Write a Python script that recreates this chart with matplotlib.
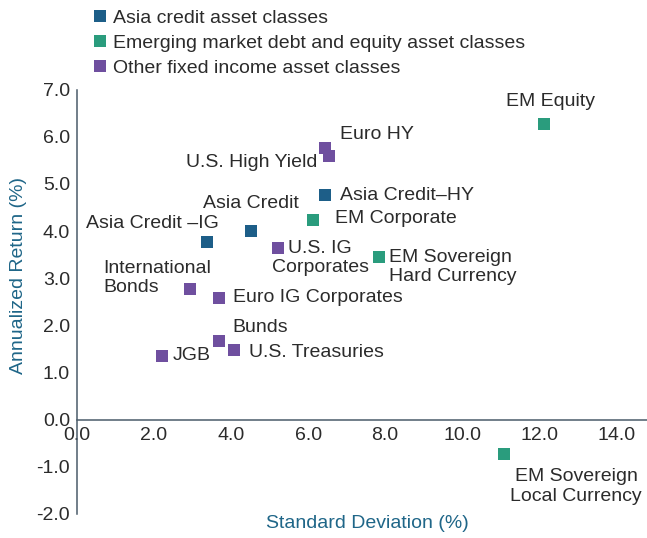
import matplotlib
matplotlib.use('Agg')
import matplotlib.pyplot as plt
from matplotlib.lines import Line2D

plt.rcParams['font.family'] = ['Liberation Sans', 'DejaVu Sans']

# data
names = ['EM Equity', 'Euro HY', 'U.S. High Yield', 'Asia Credit\u2013HY', 'EM Corporate',
         'Asia Credit', 'Asia Credit \u2013IG', 'U.S. IG\nCorporates', 'EM Sovereign\nHard Currency',
         'International\nBonds', 'Euro IG Corporates', 'Bunds', 'U.S. Treasuries', 'JGB',
         'EM Sovereign\nLocal Currency']
std_dev = [12.13, 6.44, 6.55, 6.44, 6.13, 4.52, 3.38, 5.22, 7.84, 2.94, 3.69, 3.69, 4.08, 2.21, 11.09]
ann_ret = [6.26, 5.75, 5.59, 4.76, 4.23, 4.0, 3.77, 3.64, 3.45, 2.77, 2.58, 1.67, 1.48, 1.35, -0.72]
groups = ['em', 'other', 'other', 'asia', 'em', 'asia', 'asia', 'other', 'em',
          'other', 'other', 'other', 'other', 'other', 'em']

group_names = {'asia': 'Asia credit asset classes',
               'em': 'Emerging market debt and equity asset classes',
               'other': 'Other fixed income asset classes'}
colors = {'asia': '#1d5e88', 'em': '#2a9c7d', 'other': '#6f4f9f'}

# label placement (pixel offsets from the marker, alignment)
label_pos = {
    'EM Equity': (6, 23, 'center'),
    'Euro HY': (15, 14, 'left'),
    'U.S. High Yield': (-12, -6, 'right'),
    'Asia Credit\u2013HY': (15, 0, 'left'),
    'EM Corporate': (22, 2, 'left'),
    'Asia Credit': (0, 28, 'center'),
    'Asia Credit \u2013IG': (12, 18, 'right'),
    'U.S. IG\nCorporates': (42, -10, 'center'),
    'EM Sovereign\nHard Currency': (10, -10, 'left'),
    'International\nBonds': (-87, 11, 'left'),
    'Euro IG Corporates': (14, 0, 'left'),
    'Bunds': (13, 13, 'left'),
    'U.S. Treasuries': (15, -3, 'left'),
    'JGB': (11, 0, 'left'),
    'EM Sovereign\nLocal Currency': (72, -33, 'center'),
}

text_col = '#2b2b2b'
axis_col = '#4a5b6a'
title_col = '#1f6688'
fs = 14

fig = plt.figure(figsize=(6.47, 5.38), dpi=100)
ax = fig.add_axes([77 / 647, 24 / 538, 570 / 647, 424.5 / 538])

for i in range(len(names)):
    ax.scatter(std_dev[i], ann_ret[i], marker='s', s=74, color=colors[groups[i]],
               linewidths=0, zorder=3)
    dx, dy, ha = label_pos[names[i]]
    ax.annotate(names[i], (std_dev[i], ann_ret[i]), xytext=(dx, dy),
                textcoords='offset pixels', ha=ha, va='center', fontsize=fs,
                color=text_col, linespacing=1.2,
                multialignment='center' if ha == 'center' else 'left')

ax.set_xlim(0, 14.8)
ax.set_ylim(-2, 7)
ax.set_xticks([0, 2, 4, 6, 8, 10, 12, 14])
ax.set_xticklabels(['%.1f' % v for v in [0, 2, 4, 6, 8, 10, 12, 14]])
ax.set_yticks(range(-2, 8))
ax.set_yticklabels(['%.1f' % v for v in range(-2, 8)])

ax.spines['top'].set_visible(False)
ax.spines['right'].set_visible(False)
ax.spines['bottom'].set_position(('data', 0))
for s in ['left', 'bottom']:
    ax.spines[s].set_color(axis_col)
    ax.spines[s].set_linewidth(1.1)
ax.tick_params(axis='both', length=0, labelsize=fs, labelcolor=text_col)
ax.tick_params(axis='x', pad=5)
ax.tick_params(axis='y', pad=5)

ax.set_xlabel('Standard Deviation (%)', fontsize=fs, color=title_col)
ax.set_ylabel('Annualized Return (%)', fontsize=fs, color=title_col)
ax.xaxis.set_label_coords(0.509, -0.003)
ax.yaxis.set_label_coords(-0.087, 0.561)

handles = [Line2D([], [], marker='s', linestyle='none', markersize=8.6,
                  markerfacecolor=colors[k], markeredgewidth=0, label=group_names[k])
           for k in ['asia', 'em', 'other']]
fig.legend(handles=handles, loc='upper left', bbox_to_anchor=(94 / 647, 1 - 9 / 538),
           frameon=False, fontsize=fs, handlelength=0.6, handletextpad=0.4,
           labelspacing=0.38, borderpad=0, borderaxespad=0, labelcolor=text_col)

fig.patch.set_facecolor('white')
fig.savefig('out.png', dpi=100)
